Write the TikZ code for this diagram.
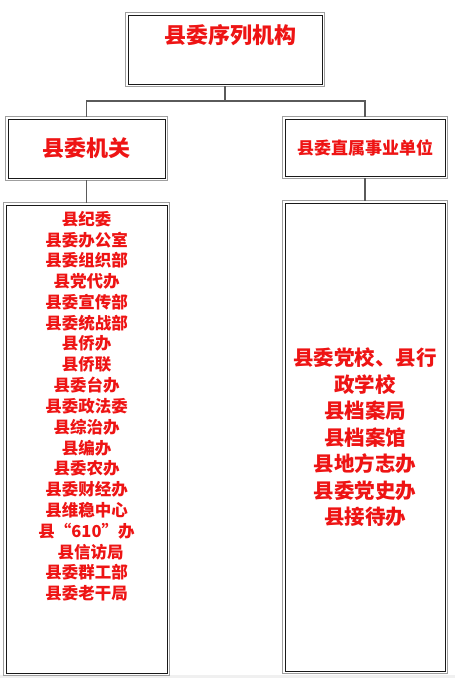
\documentclass[tikz,border=0pt]{standalone}
\usepackage{fontspec}
\newfontfamily\cjk{Noto Sans CJK SC}
\definecolor{txtred}{RGB}{238,20,20}
\definecolor{lnk}{RGB}{90,90,90}
\begin{document}
\begin{tikzpicture}[x=1pt,y=-1pt,
  box/.style={draw=black!90, line width=0.9pt, fill=white, inner sep=0pt},
  outerframe/.style={draw=gray!75, line width=1.1pt},
  lbl/.style={text=txtred, font=\cjk\bfseries, inner sep=0pt},
  link/.style={draw=lnk, line width=1.3pt}]
\useasboundingbox (0,0) rectangle (455,678);
\fill[gray!12] (0,675) rectangle (455,678);
% boxes
\node[box, minimum width=194pt, minimum height=69pt] (top) at (225,49.5) {};
\node[box, minimum width=157pt, minimum height=59pt] (jg) at (86.5,148.5) {};
\node[box, minimum width=160pt, minimum height=57pt] (zs) at (365,147.5) {};
\node[box, minimum width=161pt, minimum height=468pt] (jglist) at (86.5,439) {};
\node[box, minimum width=160pt, minimum height=468pt] (zslist) at (365,437) {};
\foreach \n in {top,jg,zs,jglist,zslist}{
  \draw[outerframe] ([shift={(-1.8pt,1.8pt)}]\n.north west) rectangle ([shift={(1.8pt,-1.8pt)}]\n.south east);
}
% connectors
\coordinate (hub) at (225,101);
\draw[link] ([yshift=-1.8pt]top.south) -- (hub);
\draw[link] ([yshift=1.8pt]jg.north) |- (hub) -| ([yshift=1.8pt]zs.north);
\draw[link] ([yshift=-1.8pt]jg.south) -- ([yshift=1.8pt]jglist.north);
\draw[link] ([yshift=-1.8pt]zs.south) -- ([yshift=1.8pt]zslist.north);
% headings
\node[lbl, font=\cjk\bfseries\fontsize{22pt}{26pt}\selectfont] (ttl) at (230,35) {县委序列机构};
\node[lbl, font=\cjk\bfseries\fontsize{22pt}{26pt}\selectfont] (jgt) at (86.5,148) {县委机关};
\node[lbl, font=\cjk\bfseries\fontsize{17pt}{20pt}\selectfont] (zst) at (365,148) {县委直属事业单位};
% left list
\foreach [count=\i from 0] \t in {县纪委,县委办公室,县委组织部,县党代办,县委宣传部,县委统战部,县侨办,县侨联,县委台办,县委政法委,县综治办,县编办,县委农办,县委财经办,县维稳中心,县“610”办,\hspace{8pt}县信访局,县委群工部,县委老干局}{
  \node[lbl, font=\cjk\bfseries\fontsize{16.5pt}{20pt}\selectfont] (l\i) at (86.5,{219+20.8*\i}) {\t};
}
% right list
\foreach [count=\i from 0] \t in {县委党校、县行,政学校,县档案局,县档案馆,县地方志办,县委党史办,县接待办}{
  \node[lbl, font=\cjk\bfseries\fontsize{20.5pt}{24pt}\selectfont] (r\i) at (365,{358+26.5*\i}) {\t};
}
\end{tikzpicture}
\end{document}
